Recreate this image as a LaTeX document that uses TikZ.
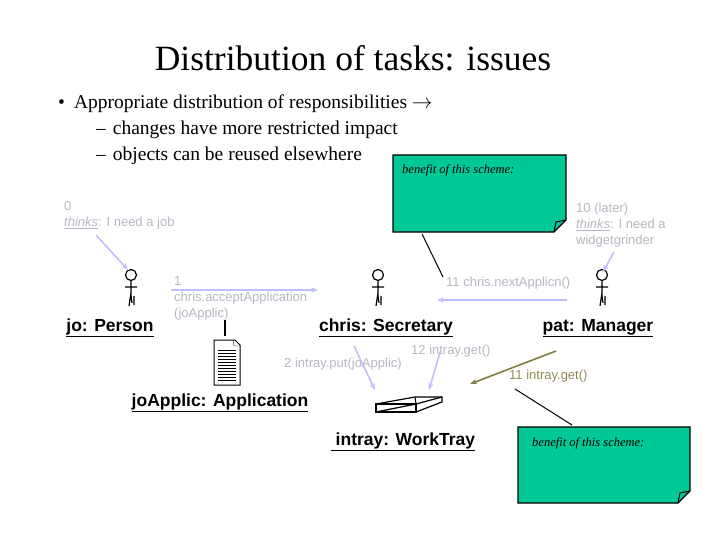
\documentclass[tikz,border=0pt]{standalone}
\usepackage{fontspec}
\setmainfont{Liberation Serif}
\newfontfamily\arial{Liberation Sans}
\usetikzlibrary{arrows.meta}
\newcommand\myul[1]{\underline{#1}}
\begin{document}
\begin{tikzpicture}[x=1pt,y=-1pt,
  faint/.style={text=black!22!blue!8!white!78!black, font=\arial\fontsize{13}{16}\selectfont, align=left, inner sep=0},
  msg/.style={draw=blue!25!white, line width=1.6pt, -{Stealth[length=7pt]}},
  obj/.style={font=\arial\bfseries\fontsize{17.5}{20}\selectfont, inner sep=0},
  note/.style={draw=black, line width=1.2pt},
  notetext/.style={font=\itshape\fontsize{12.5}{14}\selectfont, inner sep=0, anchor=west},
  body/.style={line width=1.2pt}]
\fill[white] (0,0) rectangle (720,540);
\useasboundingbox (0,0) rectangle (720,540);
\colorlet{notec}{rgb,255:red,0;green,200;blue,150}
\node[font=\fontsize{35.5}{40}\selectfont] (title) at (353,58) {Distribution of tasks: issues};
\node[anchor=west,font=\fontsize{19.5}{22}\selectfont,inner sep=0] (b1) at (58,104) {•\hspace{9pt}Appropriate distribution of responsibilities $\rightarrow$};
\node[anchor=west,font=\fontsize{19.5}{22}\selectfont,inner sep=0] (b2) at (96,130) {–\hspace{7pt}changes have more restricted impact};
\node[anchor=west,font=\fontsize{19.5}{22}\selectfont,inner sep=0] (b3) at (96,156) {–\hspace{7pt}objects can be reused elsewhere};
% notes
\path[note,fill=notec] (393,155) -- (566,155) -- (566,220) -- (554,232) -- (393,232) -- cycle;
\draw[line width=1pt] (554,232) -- (556,222) -- (566,220);
\node[notetext] (n1) at (402,170) {benefit of this scheme:};
\coordinate (n1a) at (422,234);
\path[note,fill=notec] (518,427) -- (690,427) -- (690,491) -- (678,503) -- (518,503) -- cycle;
\draw[line width=1pt] (678,503) -- (680,493) -- (690,491);
\node[notetext] (n2) at (532,443) {benefit of this scheme:};
\coordinate (n2a) at (572,425);
% stick figures
\foreach \n/\x in {jo/131,chris/378,pat/602}{
  \draw[body] (\x,275) circle (5.5pt);
  \draw[body] (\x,281) -- (\x,296) (\x-6,287) -- (\x+6,287) (\x,293) -- (\x-2,306) (\x,296) -- (\x+1,303) (\x+3,296) -- (\x+3,305);
  \coordinate (\n) at (\x,285);
}
\coordinate (chrisn) at (443,277);
\draw[line width=1pt] (n1a) -- (chrisn);
\coordinate (n2b) at (515,389);
\draw[line width=1pt] (n2b) -- (n2a);
% objects
\node[obj] (jop) at (110,328) {\myul{jo: Person}};
\node[obj] (chp) at (386,328) {\myul{chris: Secretary}};
\node[obj] (pap) at (598,328) {\myul{pat: Manager}};
\node[obj] (app) at (220,403) {\myul{joApplic: Application}};
\node[obj] (tray) at (403,442) {\myul{\ intray: WorkTray}};
% document icon
\coordinate (docc) at (225,320);
\coordinate (doct) at (225,336);
\draw[line width=1.2pt] (docc) -- (doct);
\draw[line width=1pt] (214,340) -- (235,340) -- (240,345) -- (240,385) -- (214,385) -- cycle;
\draw (233,340) -- (234,346) -- (240,346);
\foreach \y in {350,353,...,380}{\draw[line width=0.8pt] (218,\y) -- (236,\y);}
% tray icon
\draw[line width=1.2pt] (376,404) -- (376,412) -- (416,412) -- (416,404) -- cycle;
\draw[line width=1.2pt] (376,412) -- (416,404);
\draw[line width=1.2pt] (376,404) -- (415,397) -- (442,397) -- (442,402) -- (416,412);
\draw[line width=1.2pt] (416,404) -- (442,397);
\draw[line width=1pt] (415,397) -- (416,404);
% labels
\node[faint,anchor=north west] (l0) at (64,201) {0\\\myul{\itshape thinks}: I need a job};
\node[faint,anchor=north west] (l1) at (174,276) {1\\chris.acceptApplication\\(joApplic)};
\node[faint,anchor=north west] (l10) at (576,203) {10 (later)\\\myul{\itshape thinks}: I need a\\widgetgrinder};
\node[faint,anchor=west] (l11) at (446,283) {11 chris.nextApplicn()};
\node[faint,anchor=west] (l2) at (284,364) {2 intray.put(joApplic)};
\node[faint,anchor=west] (l12) at (411,351) {12 intray.get()};
\node[font=\arial\fontsize{13}{16}\selectfont,text=olive!60!black!70!white,anchor=west,inner sep=0] (l11b) at (509,376) {11 intray.get()};
% arrows
\coordinate (a0s) at (96,235); \coordinate (a0e) at (128,270);
\draw[msg] (a0s) -- (a0e);
\coordinate (a1s) at (171,290); \coordinate (a1e) at (318,290);
\draw[msg] (a1s) -- (a1e);
\coordinate (a10s) at (614,252); \coordinate (a10e) at (603,272);
\draw[msg] (a10s) -- (a10e);
\coordinate (a11s) at (567,300); \coordinate (a11e) at (437,300);
\draw[msg] (a11s) -- (a11e);
\coordinate (a2s) at (354,346); \coordinate (a2e) at (375,390);
\draw[msg] (a2s) -- (a2e);
\coordinate (a12s) at (440,352); \coordinate (a12e) at (429,390);
\draw[msg] (a12s) -- (a12e);
\coordinate (a3s) at (556,351); \coordinate (a3e) at (470,384);
\draw[draw=olive!60!black!80!white, line width=1.6pt, -{Stealth[length=7pt]}] (a3s) -- (a3e);
\end{tikzpicture}
\end{document}
